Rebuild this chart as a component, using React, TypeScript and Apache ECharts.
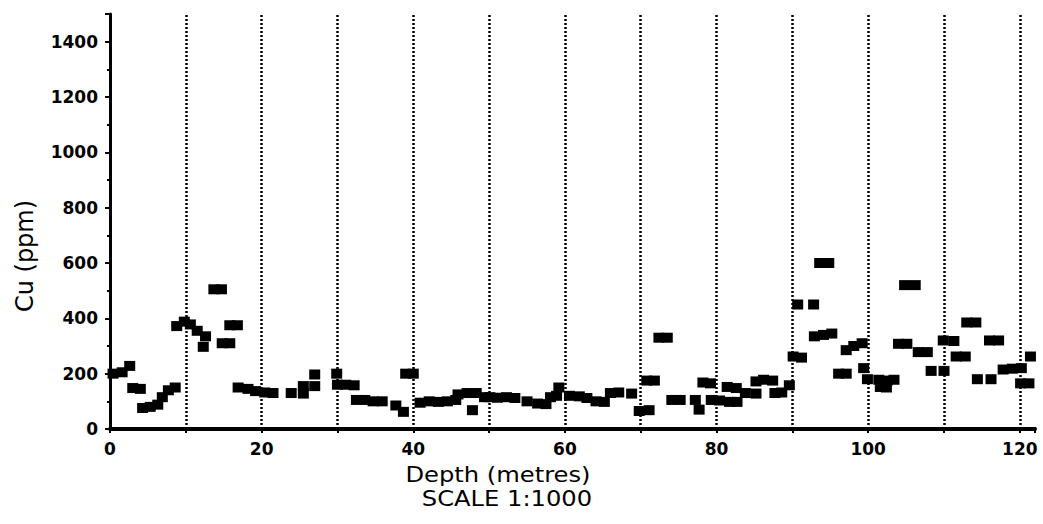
import React, { useEffect, useRef } from "react";
import * as echarts from "echarts";

const depths = [
  0.4, 1.6, 2.6, 3.0, 4.0, 4.3, 5.3, 6.3, 6.9, 7.7, 8.6, 8.8, 9.8, 10.6, 11.5, 12.3, 12.6, 13.7, 14.7, 14.8,
  15.8, 15.8, 16.8, 16.9, 18.2, 19.2, 20.4, 21.5, 23.9, 25.5, 25.5, 27.0, 27.0, 29.9, 30.0, 31.1, 32.2, 32.5,
  33.6, 34.7, 35.9, 37.7, 38.7, 39.0, 40.0, 40.9, 42.1, 43.3, 44.5, 45.6, 45.9, 47.1, 48.3, 47.8, 49.4, 50.1,
  51.1, 52.3, 53.4, 55.0, 56.4, 57.5, 58.1, 58.9, 59.2, 60.6, 61.9, 62.9, 64.1, 65.2, 66.0, 67.1, 68.8, 69.8,
  71.1, 70.8, 71.8, 72.4, 73.5, 74.1, 75.2, 77.2, 77.7, 78.2, 79.2, 79.3, 80.4, 81.4, 82.6, 81.7, 82.7, 83.8,
  85.2, 85.2, 86.2, 87.4, 87.7, 88.6, 89.6, 90.1, 91.2, 90.7, 92.8, 93.6, 94.8, 92.9, 94.1, 95.2, 96.1, 97.1,
  97.1, 98.1, 99.2, 99.4, 99.9, 101.4, 102.5, 103.4, 101.6, 102.4, 104.0, 105.1, 104.8, 106.2, 106.6, 107.8,
  108.3, 110.0, 109.9, 111.3, 111.6, 112.8, 113.0, 114.2, 114.4, 116.2, 116.0, 117.2, 117.8, 119.0, 120.2,
  120.1, 121.2, 121.4,
];

const cuValues = [
  200, 205, 228, 148, 145, 76, 80, 88, 115, 140, 150, 372, 388, 378, 355, 297, 335, 505, 505, 310,
  310, 375, 375, 150, 145, 137, 132, 130, 130, 155, 128, 197, 155, 200, 160, 160, 158, 105,
  105, 100, 100, 85, 62, 200, 200, 95, 100, 98, 100, 105, 125, 130, 130, 68, 115, 115,
  113, 115, 112, 100, 92, 90, 115, 120, 150, 120, 118, 112, 100, 98, 130, 132, 128, 65,
  68, 175, 175, 330, 330, 105, 105, 105, 70, 168, 165, 105, 103, 152, 148, 98, 98, 130,
  172, 128, 178, 175, 130, 132, 158, 262, 258, 450, 450, 600, 600, 335, 340, 345, 200, 200,
  285, 300, 310, 220, 180, 178, 175, 178, 152, 150, 308, 308, 520, 520, 278, 278,
  210, 210, 320, 318, 262, 262, 385, 385, 180, 180, 320, 320, 215, 218, 220,
  165, 165, 262,
];

const gridDepths = [10, 20, 30, 40, 50, 60, 70, 80, 90, 100, 110, 120];
const xTitle = "Depth (metres)";
const scaleText = "SCALE 1:1000";
const yTitle = "Cu (ppm)";

export default function App() {
  const ref = useRef<HTMLDivElement>(null);

  useEffect(() => {
    const chart = echarts.init(ref.current!, null, { renderer: "svg" });
    const points = depths.map((d, i) => [d, cuValues[i]]);
    chart.setOption({
      animation: false,
      backgroundColor: "#ffffff",
      grid: { left: 110, right: 8, top: 14, bottom: 95 },
      xAxis: {
        type: "value",
        min: 0,
        max: 122,
        interval: 10,
        axisLine: { lineStyle: { color: "#000", width: 4 } },
        axisTick: { show: true, length: 4, lineStyle: { color: "#000", width: 2 } },
        minorTick: { show: true, splitNumber: 5, length: 2, lineStyle: { color: "#000", width: 1 } },
        axisLabel: {
          formatter: (v: number) => (v % 20 === 0 ? String(v) : ""),
          fontFamily: "DejaVu Sans",
          fontWeight: "bold",
          fontSize: 17,
          color: "#000",
          margin: 11,
        },
        splitLine: { show: false },
      },
      yAxis: {
        type: "value",
        min: 0,
        max: 1500,
        interval: 200,
        axisLine: { show: true, lineStyle: { color: "#000", width: 3 } },
        axisTick: { show: true, length: 5, lineStyle: { color: "#000", width: 2 } },
        minorTick: { show: true, splitNumber: 2, length: 3, lineStyle: { color: "#000", width: 2 } },
        axisLabel: {
          formatter: (v: number) => (v % 200 === 0 && v <= 1400 ? String(v) : ""),
          fontFamily: "DejaVu Sans",
          fontWeight: "bold",
          fontSize: 17,
          color: "#000",
          margin: 12,
        },
        splitLine: { show: false },
      },
      series: [
        {
          type: "scatter",
          data: points,
          symbol: "rect",
          symbolSize: [11, 10],
          itemStyle: { color: "#000", opacity: 1 },
          silent: true,
          markLine: {
            silent: true,
            symbol: "none",
            label: { show: false },
            lineStyle: { type: [2, 2], color: "#000", width: 2.5 },
            data: gridDepths.map((d) => ({ xAxis: d })),
          },
        },
      ],
      graphic: [
        {
          type: "text",
          x: 498,
          y: 474,
          scaleX: 1.1,
          style: {
            text: xTitle,
            fontFamily: "DejaVu Sans",
            fontSize: 22,
            fill: "#000",
            textAlign: "center",
            textVerticalAlign: "middle",
          },
        },
        {
          type: "text",
          x: 507,
          y: 498,
          scaleX: 1.1,
          style: {
            text: scaleText,
            fontFamily: "DejaVu Sans",
            fontSize: 22,
            fill: "#000",
            textAlign: "center",
            textVerticalAlign: "middle",
          },
        },
        {
          type: "text",
          x: 25,
          y: 256,
          rotation: Math.PI / 2,
          style: {
            text: yTitle,
            fontFamily: "DejaVu Sans",
            fontSize: 24,
            fill: "#000",
            textAlign: "center",
            textVerticalAlign: "middle",
          },
        },
      ],
    });
    return () => chart.dispose();
  }, []);

  return (
    <div
      ref={ref}
      style={{ position: "fixed", left: 0, top: 0, width: 1043, height: 524, background: "#fff" }}
    />
  );
}
